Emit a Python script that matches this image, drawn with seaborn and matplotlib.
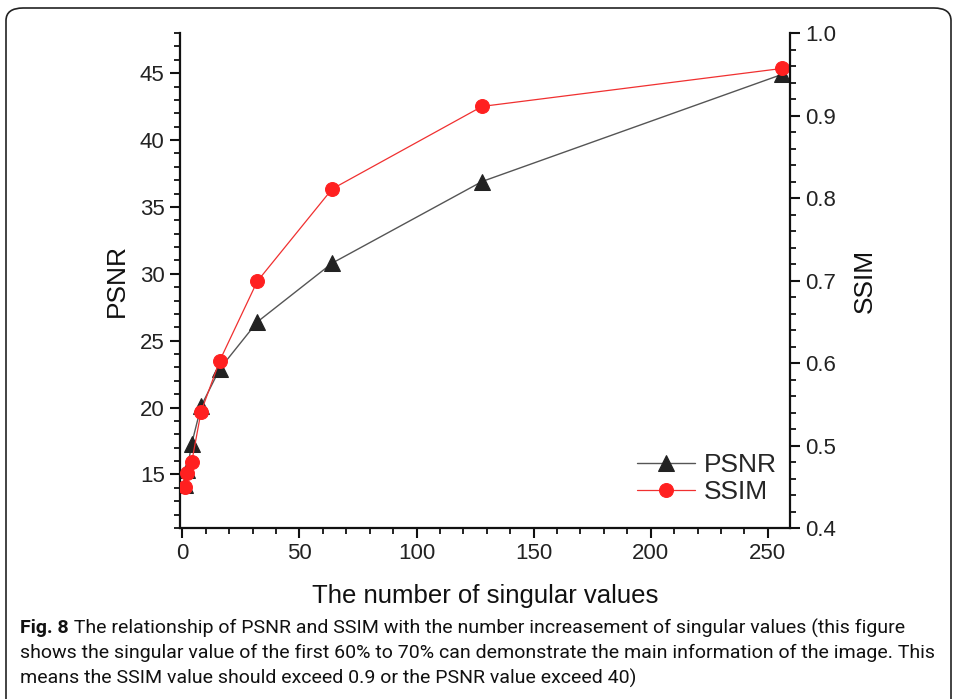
import matplotlib
matplotlib.use("Agg")
import matplotlib.pyplot as plt
from matplotlib.ticker import MultipleLocator
from matplotlib.patches import FancyBboxPatch
import seaborn as sns
import pandas as pd

# data
singular_values = [1, 2, 4, 8, 16, 32, 64, 128, 256]
psnr = [14.2, 15.3, 17.3, 20.1, 22.9, 26.4, 30.8, 36.9, 44.9]
ssim = [0.450, 0.467, 0.480, 0.541, 0.603, 0.699, 0.811, 0.911, 0.957]
x_ticks = [0, 50, 100, 150, 200, 250]
psnr_ticks = [15, 20, 25, 30, 35, 40, 45]
ssim_ticks = [0.4, 0.5, 0.6, 0.7, 0.8, 0.9, 1.0]

df = pd.DataFrame({"k": singular_values, "PSNR": psnr, "SSIM": ssim})

sns.set_style("ticks")
plt.rcParams["font.family"] = ["Liberation Sans", "DejaVu Sans"]

W, H = 956, 699
fig = plt.figure(figsize=(W / 100, H / 100), dpi=100)
ax = fig.add_axes([180 / W, 1 - 528 / H, (790 - 180) / W, (528 - 33) / H])
ax2 = ax.twinx()

sns.lineplot(data=df, x="k", y="PSNR", ax=ax, color="#555555", linewidth=1.0,
             marker="^", markersize=11, markerfacecolor="#222222",
             markeredgecolor="#222222", label="PSNR", legend=False)
sns.lineplot(data=df, x="k", y="SSIM", ax=ax2, color="#f03030", linewidth=0.9,
             marker="o", markersize=10, markerfacecolor="#ff2020",
             markeredgecolor="#ff2020", label="SSIM", legend=False)

ax.set_xlim(-1, 259.5)
ax.set_ylim(11.0, 48.0)
ax2.set_ylim(0.4, 1.0)

ax.set_xticks(x_ticks)
ax.set_yticks(psnr_ticks)
ax2.set_yticks(ssim_ticks)
ax.xaxis.set_minor_locator(MultipleLocator(10))
ax.yaxis.set_minor_locator(MultipleLocator(1))
ax2.yaxis.set_minor_locator(MultipleLocator(0.02))
ax2.set_yticklabels([f"{v:.1f}" for v in ssim_ticks])

for a in (ax, ax2):
    a.spines["top"].set_visible(False)
    for s in a.spines.values():
        s.set_linewidth(1.6)
        s.set_color("#111111")
    a.tick_params(which="major", length=7, width=1.5, color="#111111",
                  labelsize=16, labelcolor="#222222", pad=4)
    a.tick_params(which="minor", length=4, width=1.3, color="#111111")
ax.spines["right"].set_visible(False)
ax2.spines["left"].set_visible(False)
ax2.spines["bottom"].set_visible(False)

ax.set_xlabel("The number of singular values", fontsize=18.5, color="#111111", labelpad=14)
ax.set_ylabel("PSNR", fontsize=19, color="#111111", labelpad=8)
ax2.set_ylabel("SSIM", fontsize=19, color="#111111", labelpad=12)

h1, l1 = ax.get_legend_handles_labels()
h2, l2 = ax2.get_legend_handles_labels()
ax2.legend(h1 + h2, l1 + l2, loc="lower right", bbox_to_anchor=(1.018, 0.0),
           frameon=False, fontsize=19, handlelength=2.2, handletextpad=0.35,
           labelspacing=0.12)

# outer rounded frame
frame = FancyBboxPatch((6 / W, -0.05), 945 / W, 1 - 8 / H + 0.05,
                       boxstyle="round,pad=0,rounding_size=0.018",
                       transform=fig.transFigure, fill=False,
                       edgecolor="#222222", linewidth=1.2, clip_on=False)
fig.patches.append(frame)

cap_font = ["Roboto", "DejaVu Sans"]
lines = [
    " The relationship of PSNR and SSIM with the number increasement of singular values (this figure",
    "shows the singular value of the first 60% to 70% can demonstrate the main information of the image. This",
    "means the SSIM value should exceed 0.9 or the PSNR value exceed 40)",
]
# fit caption size so the longest line spans the same width as in the reference
renderer = fig.canvas.get_renderer()
probe = fig.text(0, 0, lines[1], fontsize=14, family=cap_font)
wpx = probe.get_window_extent(renderer).width
probe.remove()
cap_size = 14 * 915 / wpx

y0 = 1 - 628 / H
dy = 25 / H
t0 = fig.text(20 / W, y0, "Fig. 8", fontsize=cap_size, fontweight="bold", family=cap_font,
              va="center", ha="left", color="#111111")
bw = t0.get_window_extent(renderer).width
fig.text((20 + bw) / W, y0, lines[0], fontsize=cap_size, family=cap_font, va="center", ha="left", color="#111111")
fig.text(20 / W, y0 - dy, lines[1], fontsize=cap_size, family=cap_font, va="center", ha="left", color="#111111")
fig.text(20 / W, y0 - 2 * dy, lines[2], fontsize=cap_size, family=cap_font, va="center", ha="left", color="#111111")

fig.savefig("out.png", dpi=100)
